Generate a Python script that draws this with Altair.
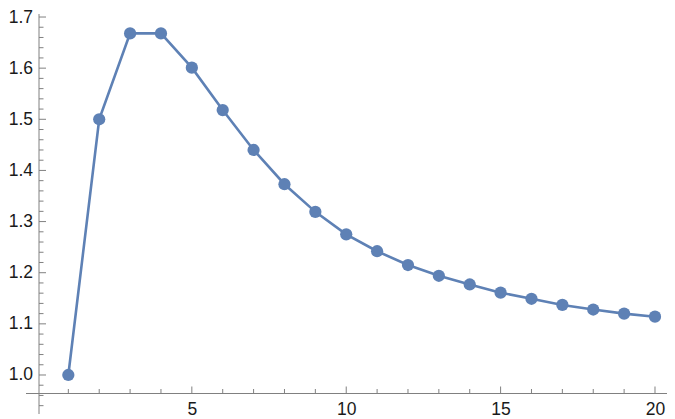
import altair as alt
import pandas as pd

# Data
n_values = list(range(1, 21))
f_values = [1.000, 1.500, 1.668, 1.668, 1.601, 1.518, 1.440, 1.373, 1.319, 1.275,
            1.242, 1.215, 1.194, 1.177, 1.161, 1.149, 1.137, 1.128, 1.120, 1.114]

x_major_ticks = [5, 10, 15, 20]
x_minor_ticks = [1, 2, 3, 4, 6, 7, 8, 9, 11, 12, 13, 14, 16, 17, 18, 19]
y_major_ticks = [1.0, 1.1, 1.2, 1.3, 1.4, 1.5, 1.6, 1.7]
y_minor_ticks = [0.94, 0.96, 0.98, 1.02, 1.04, 1.06, 1.08, 1.12, 1.14, 1.16, 1.18,
                 1.22, 1.24, 1.26, 1.28, 1.32, 1.34, 1.36, 1.38, 1.42, 1.44, 1.46,
                 1.48, 1.52, 1.54, 1.56, 1.58, 1.62, 1.64, 1.66, 1.68]

PAD_L = 31
PAD_T = 6
W = 659 - PAD_L
H = 379.5
AXIS_COLOR = "#808080"
LINE_COLOR = "#5E81B5"
FONT = "Liberation Sans"

xscale = alt.Scale(domain=[0.05, 20.389], nice=False, zero=False)
yscale = alt.Scale(domain=[0.9638, 1.7059], nice=False, zero=False)

df = pd.DataFrame({"n": n_values, "f": f_values})

xaxis = alt.Axis(values=x_major_ticks, format="d", title=None, grid=False, domain=False,
                 ticks=False, tickSize=0, labelPadding=7, labelFont=FONT, labelFontSize=17.5,
                 labelColor="#1a1a1a")
yaxis = alt.Axis(values=y_major_ticks, format=".1f", title=None, grid=False, domain=False,
                 ticks=False, tickSize=0, labelPadding=6.5, labelFont=FONT, labelFontSize=17.5,
                 labelColor="#1a1a1a")

one = pd.DataFrame({"a": [0]})

x_axis_line = alt.Chart(one).mark_rule(color=AXIS_COLOR, strokeWidth=1).encode(
    x=alt.value(-13), x2=alt.value(W), y=alt.value(H))
y_axis_line = alt.Chart(one).mark_rule(color=AXIS_COLOR, strokeWidth=1).encode(
    x=alt.value(0), y=alt.value(0), y2=alt.value(H + 20.5))

xmaj = alt.Chart(pd.DataFrame({"n": x_major_ticks})).mark_rule(color=AXIS_COLOR).encode(
    x=alt.X("n:Q", scale=xscale, axis=xaxis), y=alt.value(H), y2=alt.value(H - 7))
xmin = alt.Chart(pd.DataFrame({"n": x_minor_ticks})).mark_rule(color=AXIS_COLOR).encode(
    x=alt.X("n:Q", scale=xscale, axis=xaxis), y=alt.value(H), y2=alt.value(H - 4.5))
ymaj = alt.Chart(pd.DataFrame({"f": y_major_ticks})).mark_rule(color=AXIS_COLOR).encode(
    y=alt.Y("f:Q", scale=yscale, axis=yaxis), x=alt.value(0), x2=alt.value(7))
ymin = alt.Chart(pd.DataFrame({"f": y_minor_ticks})).mark_rule(color=AXIS_COLOR).encode(
    y=alt.Y("f:Q", scale=yscale, axis=yaxis), x=alt.value(0), x2=alt.value(4.5))

base = alt.Chart(df).encode(
    x=alt.X("n:Q", scale=xscale, axis=xaxis),
    y=alt.Y("f:Q", scale=yscale, axis=yaxis),
)
line = base.mark_line(color=LINE_COLOR, strokeWidth=2.6)
pts = base.mark_point(filled=True, shape="circle", size=150, color=LINE_COLOR, opacity=1)

chart = alt.layer(line, pts, x_axis_line, y_axis_line, xmaj, xmin, ymaj, ymin).properties(
    width=W, height=H,
    autosize=alt.AutoSizeParams(type="none"),
    padding={"left": PAD_L, "top": PAD_T, "right": 0, "bottom": 411 - PAD_T - H},
).configure_view(stroke=None)

chart.save("out.html", embed_options={"renderer": "svg", "actions": False})
